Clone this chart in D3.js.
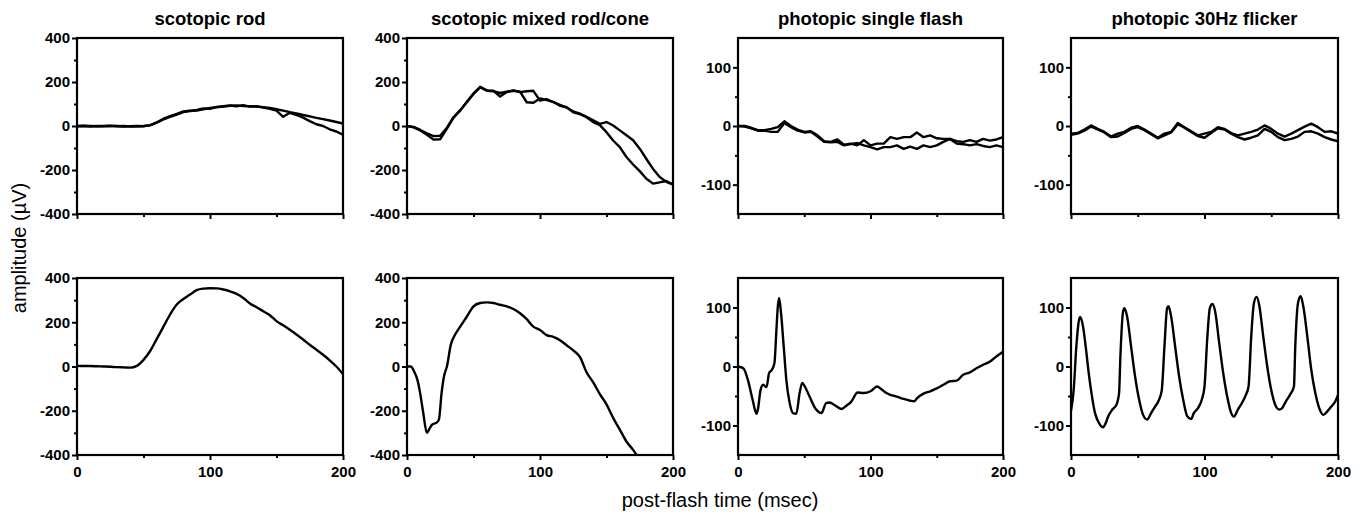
<!DOCTYPE html>
<html>
<head>
<meta charset="utf-8">
<script src="https://cdn.jsdelivr.net/npm/d3@7"></script>
<style>
  body { margin: 0; background: #fff; }
  svg { display: block; font-family: "Liberation Sans", Arial, sans-serif; }
  .axis line { stroke: #000; stroke-width: 2; }
  .axis text { font-size: 15px; font-weight: bold; fill: #000; }
  .trace { fill: none; stroke: #000; stroke-width: 2.4; stroke-linejoin: round; }
  .frame { fill: none; stroke: #000; stroke-width: 2.2; }
  .title { font-size: 18.5px; font-weight: bold; text-anchor: middle; }
  .label { font-size: 20px; text-anchor: middle; }
</style>
</head>
<body>
<svg id="chart" width="1368" height="514"></svg>
<script>
// time grid of the top row traces (msec)
const t5 = d3.range(0, 201, 5);

// top row: two repeated recordings per protocol (µV)
const rodTopA = [0,1,0,-1,0,1,-1,0,-2,-1,0,3,15,30,42,52,63,68,70,76,82,85,88,92,93,91,90,88,86,82,76,70,63,57,50,44,37,31,25,18,11];
const rodTopB = [-1,0,-2,0,-1,0,0,-2,-1,0,-1,4,17,33,45,55,66,70,73,80,78,87,90,93,89,95,88,90,84,78,70,42,60,50,38,22,8,0,-15,-25,-40];
const mixedTopA = [0,-4,-18,-33,-46,-44,-8,40,72,108,146,176,160,158,150,156,162,154,158,160,115,122,108,96,84,66,56,42,26,10,18,2,-20,-42,-65,-103,-150,-195,-232,-254,-266];
const mixedTopB = [0,-6,-20,-40,-62,-60,-12,38,70,110,148,178,162,160,134,154,160,156,108,106,125,118,110,92,86,62,54,40,18,4,-28,-66,-96,-141,-175,-205,-240,-262,-256,-250,-266];
const flashTopA = [0,0,-3,-7,-7,-5,-2,8,0,-6,-10,-9,-16,-26,-27,-23,-32,-30,-33,-24,-33,-30,-30,-19,-22,-19,-19,-11,-19,-16,-21,-22,-22,-26,-27,-24,-27,-22,-25,-23,-19];
const flashTopB = [0,-1,-4,-8,-8,-10,-10,5,-2,-8,-11,-10,-18,-27,-28,-27,-33,-31,-29,-33,-36,-40,-36,-36,-33,-39,-35,-39,-33,-36,-33,-27,-22,-30,-31,-33,-31,-34,-36,-33,-36];
const flickerTopA = [-13,-12,-6,1,-5,-10,-18,-13,-10,-3,0,-6,-13,-20,-13,-10,5,-2,-9,-16,-13,-10,-2,-5,-12,-16,-13,-10,-6,1,-5,-13,-18,-13,-7,-1,4,-2,-10,-9,-13];
const flickerTopB = [-15,-13,-8,-1,-6,-11,-19,-18,-12,-5,-2,-7,-14,-21,-16,-11,3,-3,-10,-17,-20,-12,-4,-6,-13,-19,-23,-20,-16,-5,-10,-19,-24,-22,-18,-10,-9,-13,-19,-23,-26];

// bottom row: single traces
const rodBotV = [3,2,2,1,0,-1,-3,-4,-5,3,30,70,125,180,235,280,305,325,345,352,354,353,348,340,328,310,285,268,250,232,205,186,166,145,122,98,76,53,28,0,-34];
const mixedBotT = [0,3,5,8,10,12,15,17,19,22,24,26,28,30,33,36,40,45,50,55,60,65,70,75,80,85,90,95,100,105,110,115,120,125,130,135,140,145,150,155,160,165,170,173,176];
const mixedBotV = [0,0,-18,-64,-125,-201,-300,-280,-262,-255,-240,-120,-40,0,100,142,180,226,272,287,290,287,279,272,260,241,214,180,165,142,134,119,96,73,43,-26,-72,-125,-171,-232,-285,-339,-377,-403,-430];
const flashBotT = [0,4,7.5,11,14,15,17,19,21.5,23.5,25.5,27.5,29,30,31,32.5,34.5,36.5,39,41.5,44,46.5,48.5,50.5,54,59,63,66.5,69,74,78,82,86,88,90,95,100,105,108,112,115,120,125,130,133,135,140,145,150,155,160,165,170,175,180,185,190,195,200];
const flashBotV = [0,-3,-23,-56,-80,-73,-40,-31,-35,-11,-6,6,62,100,116,90,34,-23,-62,-79,-80,-45,-28,-34,-51,-73,-79,-62,-61,-67,-72,-66,-58,-50,-44,-45,-42,-34,-38,-45,-48,-51,-55,-58,-59,-54,-46,-42,-37,-31,-25,-24,-14,-10,-3,3,8,17,25];
const flickerBotT = [0,2,4,6,7,9,11,13,15,18,21,24,26,28,31,34,36,37,39,40,42,45,48,51,54,57,60,63,66,68,70,72,73,75,78,81,84,87,90,92,95,98,100,102,104,106,108,111,114,117,120,122,125,128,131,133,135,137,139,141,144,147,150,153,156,158,161,164,167,168,170,172,174,177,180,183,186,189,192,195,198,200];
const flickerBotV = [-75,-40,34,79,84,68,34,-6,-40,-79,-96,-103,-96,-84,-73,-65,-45,17,93,99,85,34,-17,-56,-82,-90,-79,-68,-56,-40,34,99,102,85,34,-17,-56,-84,-89,-79,-71,-56,-34,45,99,106,93,40,-11,-51,-79,-85,-73,-62,-48,-34,51,107,118,104,51,0,-40,-65,-73,-71,-59,-48,-34,34,107,119,102,51,-6,-45,-71,-82,-76,-68,-59,-48];

// axis ticks
const titles = ["scotopic rod", "scotopic mixed rod/cone", "photopic single flash", "photopic 30Hz flicker"];
const xMajor = [0, 100, 200];
const xMinor = [50, 150];
const bigY = { domain: [-400, 400], major: [-400, -200, 0, 200, 400], minor: [-300, -100, 100, 300] };
const smallY = { domain: [-150, 150], major: [-100, 0, 100], minor: [-50, 50] };

const zip = (ts, vs) => ts.map((t, i) => [t, vs[i]]);

const panels = [
  { row: 0, col: 0, y: bigY, traces: [zip(t5, rodTopA), zip(t5, rodTopB)] },
  { row: 0, col: 1, y: bigY, traces: [zip(t5, mixedTopA), zip(t5, mixedTopB)] },
  { row: 0, col: 2, y: smallY, traces: [zip(t5, flashTopA), zip(t5, flashTopB)] },
  { row: 0, col: 3, y: smallY, traces: [zip(t5, flickerTopA), zip(t5, flickerTopB)] },
  { row: 1, col: 0, y: bigY, traces: [zip(t5, rodBotV)] },
  { row: 1, col: 1, y: bigY, traces: [zip(mixedBotT, mixedBotV)] },
  { row: 1, col: 2, y: smallY, traces: [zip(flashBotT, flashBotV)] },
  { row: 1, col: 3, y: smallY, traces: [zip(flickerBotT, flickerBotV)] },
];

const cols = [[77, 343], [407, 673], [738, 1003], [1071, 1338]];
const rows = [[38, 214], [278, 455]];

const svg = d3.select("#chart");
const fmt = (d) => String(d);

panels.forEach((p, i) => {
  const [x0, x1] = cols[p.col];
  const [y0, y1] = rows[p.row];
  const x = d3.scaleLinear().domain([0, 200]).range([x0, x1]);
  const y = d3.scaleLinear().domain(p.y.domain).range([y1, y0]);
  const g = svg.append("g");

  g.append("clipPath")
    .attr("id", "clip" + i)
    .append("rect")
    .attr("x", x0).attr("y", y0)
    .attr("width", x1 - x0).attr("height", y1 - y0);

  const line = d3.line()
    .x((d) => x(d[0]))
    .y((d) => y(d[1]))
    .curve(p.row === 1 ? d3.curveMonotoneX : d3.curveLinear);

  g.append("g")
    .attr("clip-path", `url(#clip${i})`)
    .selectAll("path")
    .data(p.traces)
    .enter()
    .append("path")
    .attr("class", "trace")
    .attr("d", line);

  // y axis: labelled major ticks plus short minor ticks
  g.append("g")
    .attr("class", "axis")
    .attr("transform", `translate(${x0},0)`)
    .call(d3.axisLeft(y).tickValues(p.y.major).tickSize(5).tickSizeOuter(0).tickPadding(2).tickFormat(fmt))
    .call((a) => a.select(".domain").remove());
  g.append("g")
    .attr("class", "axis")
    .attr("transform", `translate(${x0},0)`)
    .call(d3.axisLeft(y).tickValues(p.y.minor).tickSize(3).tickFormat(""))
    .call((a) => a.select(".domain").remove());

  // x axis: labels only on the bottom row
  g.append("g")
    .attr("class", "axis")
    .attr("transform", `translate(0,${y1})`)
    .call(d3.axisBottom(x).tickValues(xMajor).tickSize(5).tickPadding(6)
      .tickFormat(p.row === 1 ? fmt : ""))
    .call((a) => a.select(".domain").remove());
  g.append("g")
    .attr("class", "axis")
    .attr("transform", `translate(0,${y1})`)
    .call(d3.axisBottom(x).tickValues(xMinor).tickSize(3).tickFormat(""))
    .call((a) => a.select(".domain").remove());

  g.append("rect")
    .attr("class", "frame")
    .attr("x", x0).attr("y", y0)
    .attr("width", x1 - x0).attr("height", y1 - y0);

  if (p.row === 0) {
    g.append("text")
      .attr("class", "title")
      .attr("x", (x0 + x1) / 2)
      .attr("y", 25)
      .text(titles[p.col]);
  }
});

svg.append("text")
  .attr("class", "label")
  .attr("transform", "translate(26,248) rotate(-90)")
  .text("amplitude (µV)");

svg.append("text")
  .attr("class", "label")
  .attr("x", 720)
  .attr("y", 507)
  .text("post-flash time (msec)");
</script>
</body>
</html>
